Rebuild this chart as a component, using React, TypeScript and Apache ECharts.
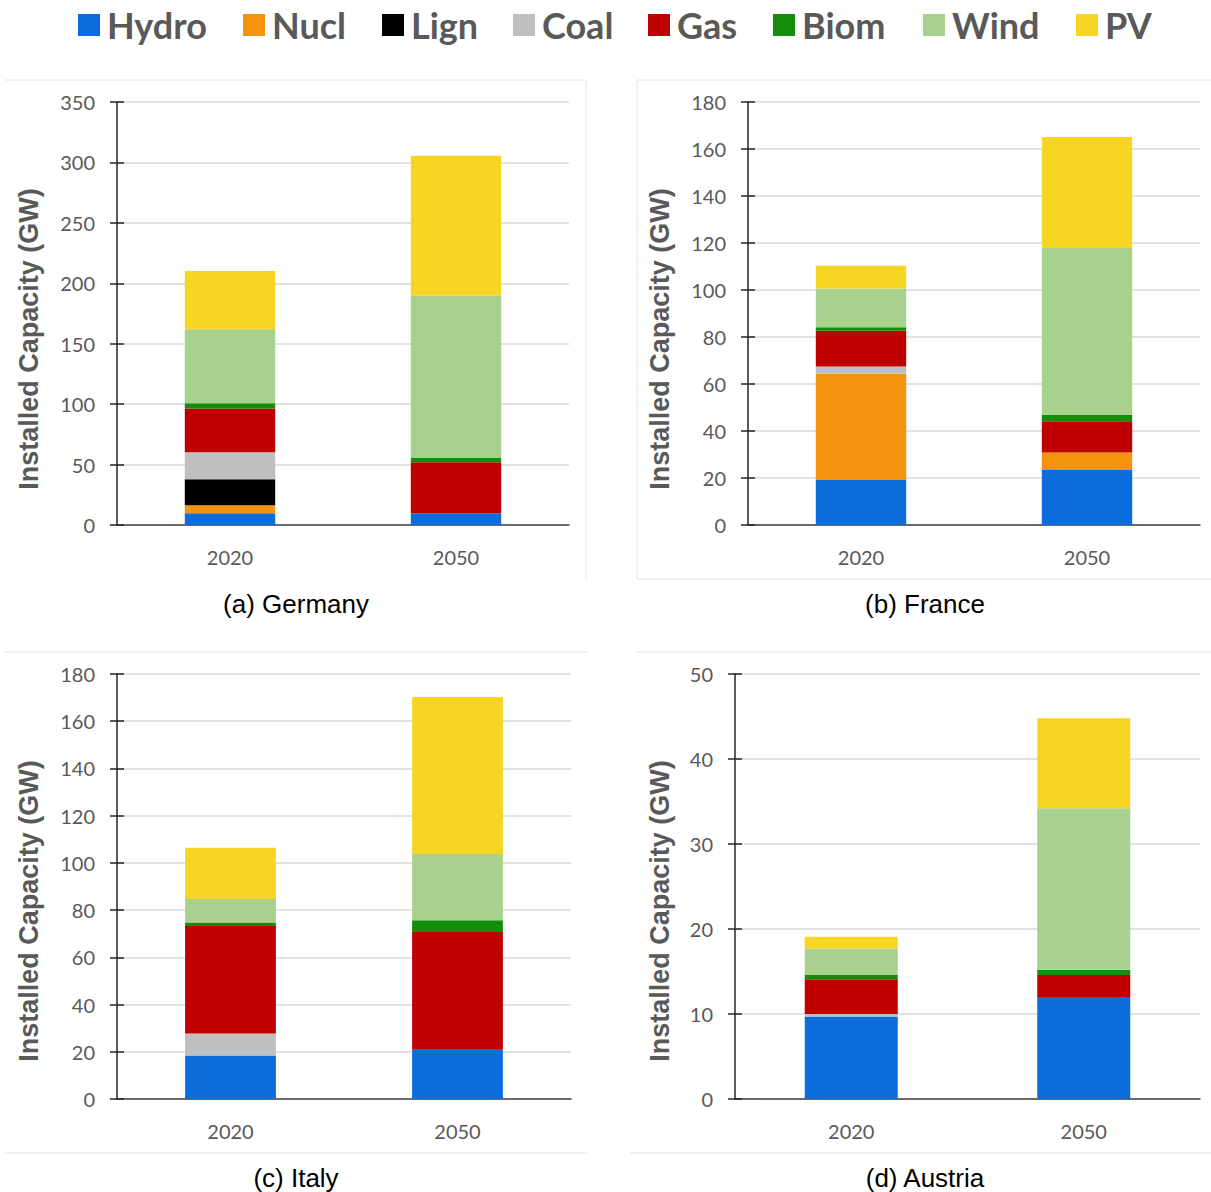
import React, { useEffect, useRef } from "react";
import * as echarts from "echarts";

// ---- data ----
const categories = ["2020", "2050"];
const techNames = ["Hydro", "Nucl", "Lign", "Coal", "Gas", "Biom", "Wind", "PV"];
const panelTitles = ["(a) Germany", "(b) France", "(c) Italy", "(d) Austria"];
const axisTitle = "Installed Capacity (GW)";

// values in GW, order of techNames, [2020, 2050]
const germany = [
  [9.7, 9.7], [6.6, 0], [21.5, 0], [22.4, 0], [36.1, 42.2], [4.4, 3.5], [61.2, 134.3], [48.3, 115.9],
];
const france = [
  [19.1, 23.4], [45.3, 7.5], [0, 0], [3.1, 0], [15.2, 13.2], [1.4, 2.7], [16.5, 71.1], [9.7, 47.2],
];
const italy = [
  [18.4, 20.9], [0, 0], [0, 0], [9.3, 0], [45.6, 49.8], [1.5, 5.0], [9.9, 28.1], [21.7, 66.5],
];
const austria = [
  [9.7, 12.0], [0, 0], [0, 0], [0.3, 0], [4.1, 2.6], [0.5, 0.6], [3.1, 19.0], [1.4, 10.6],
];
const panelData = [germany, france, italy, austria];
const yMax = [350, 180, 180, 50];
const yStep = [50, 20, 20, 10];

// ---- styles / layout ----
const techColors = ["#0b6cdb", "#f4930c", "#000000", "#bfbfbf", "#c00000", "#148c0c", "#a9d18e", "#f7d524"];
const gridLayout = [
  { left: 117, top: 102, width: 452, height: 423 },
  { left: 748, top: 102, width: 452, height: 423 },
  { left: 117, top: 674, width: 454, height: 425 },
  { left: 735, top: 674, width: 465, height: 425 },
];
const legendX = [73, 238, 377, 508, 643, 768, 918, 1071];
const captionPos = [
  [296, 604], [925, 604], [296, 1178], [925, 1178],
];
const axisTitlePos = [
  [29, 339], [660, 339], [29, 911], [660, 911],
];
const frameLines = [
  [5, 80, 586, 80], [586, 80, 586, 579],
  [637, 80, 1211, 80], [637, 80, 637, 579], [637, 579, 1211, 579],
  [5, 652, 587, 652], [5, 1153, 587, 1153],
  [636, 652, 1211, 652], [630, 1153, 1211, 1153],
];

const GREY = "#595959";
const FONT = "Lato, 'Open Sans', sans-serif";

export default function App() {
  const ref = useRef<HTMLDivElement>(null);
  useEffect(() => {
    if (!ref.current) return;
    const chart = echarts.init(ref.current, undefined, { renderer: "svg" });

    const series: any[] = [];
    panelData.forEach((pd, p) => {
      techNames.forEach((name, t) => {
        series.push({
          name,
          type: "bar",
          stack: "s" + p,
          xAxisIndex: p,
          yAxisIndex: p,
          barWidth: "40%",
          itemStyle: { color: techColors[t] },
          data: pd[t],
        });
      });
    });

    const mainY = gridLayout.map((_, p) => ({
      type: "value",
      gridIndex: p,
      min: 0,
      max: yMax[p],
      interval: yStep[p],
      axisLine: { show: true, lineStyle: { color: "#262626", width: 1.5 } },
      axisTick: { show: true, length: 7, lineStyle: { color: "#262626", width: 1.5 } },
      axisLabel: { margin: 22, color: GREY, fontSize: 20, fontFamily: FONT },
      splitLine: { show: true, lineStyle: { color: "#d9d9d9", width: 1.5 } },
    }));
    const innerY = gridLayout.map((_, p) => ({
      type: "value",
      gridIndex: p,
      position: "left",
      min: 0,
      max: yMax[p],
      interval: yStep[p],
      axisLine: { show: false },
      axisTick: { show: true, inside: true, length: 7, lineStyle: { color: "#262626", width: 1.5 } },
      axisLabel: { show: false },
      splitLine: { show: false },
    }));

    const graphic: any[] = [];
    frameLines.forEach(([x1, y1, x2, y2]) =>
      graphic.push({
        type: "line",
        shape: { x1, y1, x2, y2 },
        style: { stroke: "#e2e2e2", lineWidth: 1 },
        silent: true,
      })
    );
    panelTitles.forEach((t, p) =>
      graphic.push({
        type: "text",
        x: captionPos[p][0],
        y: captionPos[p][1],
        style: {
          text: t,
          fill: "#000",
          font: "26px 'Liberation Sans', Arial, sans-serif",
          textAlign: "center",
          textVerticalAlign: "middle",
        },
      })
    );
    axisTitlePos.forEach(([x, y]) =>
      graphic.push({
        type: "text",
        x,
        y,
        rotation: Math.PI / 2,
        style: {
          text: axisTitle,
          fill: GREY,
          font: "bold 27px 'Liberation Sans', Arial, sans-serif",
          textAlign: "center",
          textVerticalAlign: "middle",
        },
      })
    );

    chart.setOption({
      animation: false,
      backgroundColor: "#fff",
      legend: techNames.map((n, i) => ({
        data: [n],
        left: legendX[i],
        top: 2,
        itemWidth: 22,
        itemHeight: 22,
        icon: "rect",
        textStyle: {
          color: GREY,
          fontSize: 36,
          fontWeight: "bold",
          fontFamily: FONT,
          padding: [0, 0, 0, 2],
        },
      })),
      grid: gridLayout,
      xAxis: gridLayout.map((_, p) => ({
        type: "category",
        gridIndex: p,
        data: categories,
        axisLine: { show: true, lineStyle: { color: "#404040", width: 1.5 } },
        axisTick: { show: false },
        axisLabel: { margin: 22, color: GREY, fontSize: 20, fontFamily: FONT },
      })),
      yAxis: [...mainY, ...innerY],
      series,
      graphic,
    });
    return () => chart.dispose();
  }, []);
  return (
    <div
      ref={ref}
      style={{ position: "absolute", left: 0, top: 0, width: 1211, height: 1192 }}
    />
  );
}
